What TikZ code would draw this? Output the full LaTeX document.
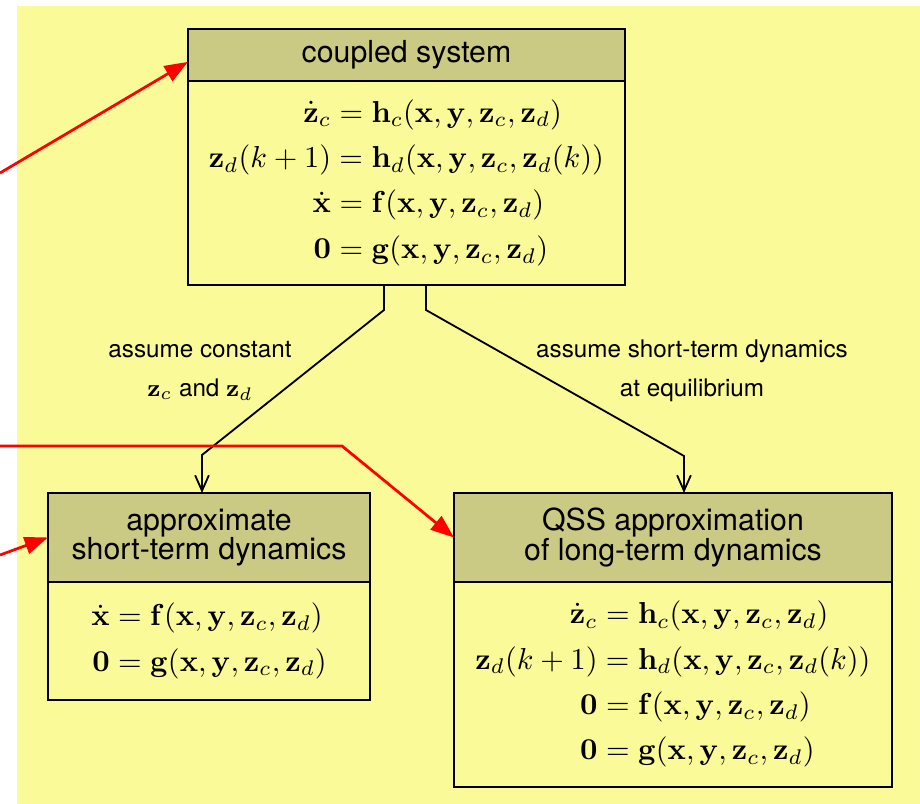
\documentclass[tikz,border=0pt]{standalone}
\usepackage{amsmath}
\usepackage[no-math]{fontspec}
\setsansfont{TeX Gyre Heros}
\usepackage{xcolor}
\usetikzlibrary{arrows.meta,positioning,calc}
\definecolor{paper}{RGB}{250,250,152}
\definecolor{headgray}{RGB}{202,202,132}
\newcommand{\vx}{\mathbf{x}}
\newcommand{\vy}{\mathbf{y}}
\newcommand{\vz}{\mathbf{z}}
\newcommand{\xyz}{(\vx,\vy,\vz_c,\vz_d)}
\tikzset{
    header/.style={rectangle, draw, fill=headgray, line width=0.7pt, inner sep=0pt,
                   outer sep=0pt, align=center, font=\sffamily\fontsize{10}{9.6}\selectfont},
    eqbox/.style={rectangle, draw, line width=0.7pt, inner sep=0pt, outer sep=0pt},
    link/.style={draw, line width=0.6pt, -{Straight Barb[length=1.8mm,width=1.6mm]}},
    pointer/.style={draw=red, line width=0.9pt, -{Triangle[length=2.7mm,width=2mm]}},
    note/.style={align=center, font=\sffamily\fontsize{8}{12.9}\selectfont},
}

\begin{document}
\begin{tikzpicture}[x=0.0116cm, y=-0.0116cm]
    \useasboundingbox (0,0) rectangle (920,804);
    \fill[white] (-10,-10) rectangle (930,814);
    \fill[paper] (17,6) rectangle (930,814);

    \node [header, minimum width=5.069cm, minimum height=0.603cm] (coupledH) at (406.5,55) {coupled system};
    \node [eqbox, below=0pt of coupledH, minimum width=5.069cm, minimum height=2.366cm] (coupledB)
        {$\begin{aligned}
            \dot{\vz}_c &= \mathbf{h}_c\xyz\\
            \vz_d(k+1) &= \mathbf{h}_d(\vx,\vy,\vz_c,\vz_d(k))\\
            \dot{\vx} &= \mathbf{f}\xyz\\
            \mathbf{0} &= \mathbf{g}\xyz
        \end{aligned}$};

    \node [header, minimum width=3.735cm, minimum height=1.032cm] (approxH) at (209,537.5) {approximate\\short-term dynamics};
    \node [eqbox, below=0pt of approxH, minimum width=3.735cm, minimum height=1.369cm] (approxB)
        {$\begin{aligned}
            \dot{\vx} &= \mathbf{f}\xyz\\
            \mathbf{0} &= \mathbf{g}\xyz
        \end{aligned}$};

    \node [header, minimum width=5.081cm, minimum height=1.032cm] (qssH) at (673,537.5) {QSS approximation\\of long-term dynamics};
    \node [eqbox, below=0pt of qssH, minimum width=5.081cm, minimum height=2.378cm] (qssB)
        {$\begin{aligned}
            \dot{\vz}_c &= \mathbf{h}_c\xyz\\
            \vz_d(k+1) &= \mathbf{h}_d(\vx,\vy,\vz_c,\vz_d(k))\\
            \mathbf{0} &= \mathbf{f}\xyz\\
            \mathbf{0} &= \mathbf{g}\xyz
        \end{aligned}$};

    % reduction steps
    \coordinate (kinkL) at (202,455);
    \coordinate (kinkR) at (684,456);
    \draw[link] ([xshift=-0.261cm]coupledB.south) -- ++(0,25) -- (kinkL) -- (kinkL |- approxH.north);
    \draw[link] ([xshift=0.226cm]coupledB.south) -- ++(0,25) -- (kinkR) -- (kinkR |- qssH.north);
    \node [note] (constLbl) at (200,371) {assume constant\\$\vz_c$ and $\vz_d$};
    \node [note] (equilLbl) at (692,371) {assume short-term dynamics\\at equilibrium\hspace{1.2em}};

    % red pointers from the margin
    \coordinate (srcTop) at (0,173);
    \coordinate (srcMid) at (0,446);
    \coordinate (bendMid) at (342,446);
    \coordinate (srcLow) at (0,555);
    \draw[pointer] (srcTop) -- ([yshift=-0.08cm]coupledH.west);
    \draw[pointer] (srcMid) -- (bendMid) -- (qssH.west);
    \draw[pointer] (srcLow) -- (approxH.west);
\end{tikzpicture}
\end{document}
